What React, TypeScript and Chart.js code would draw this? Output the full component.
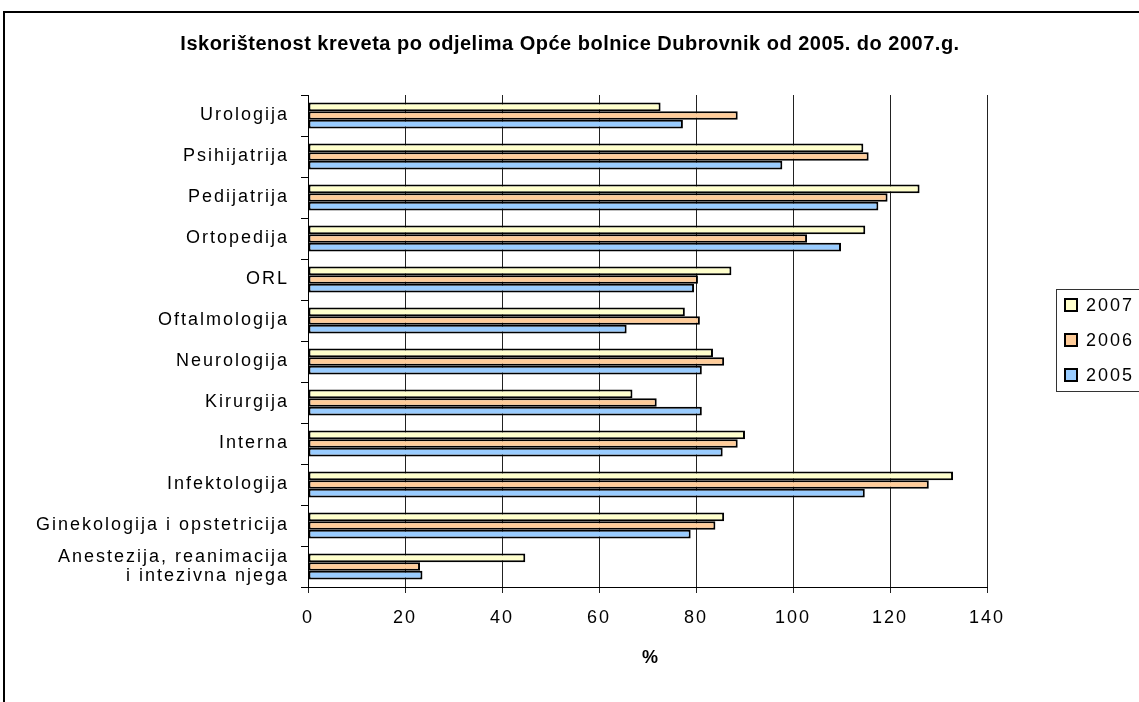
import React, { useEffect, useRef } from "react";
import { Chart, registerables } from "chart.js";

Chart.register(...registerables);

const titleText = "Iskorištenost kreveta po odjelima Opće bolnice Dubrovnik od 2005. do 2007.g.";
const xAxisTitle = "%";
const categories: (string | string[])[] = [
  "Urologija",
  "Psihijatrija",
  "Pedijatrija",
  "Ortopedija",
  "ORL",
  "Oftalmologija",
  "Neurologija",
  "Kirurgija",
  "Interna",
  "Infektologija",
  "Ginekologija i opstetricija",
  ["Anestezija, reanimacija", "i intezivna njega"],
];
const seriesNames = ["2007", "2006", "2005"];
const values2007 = [72.7, 114.5, 126.1, 114.9, 87.3, 77.7, 83.5, 66.9, 90.1, 133.0, 85.8, 44.8];
const values2006 = [88.6, 115.6, 119.5, 102.9, 80.4, 80.8, 85.8, 71.9, 88.6, 128.0, 84.0, 23.1];
const values2005 = [77.3, 97.8, 117.6, 109.9, 79.6, 65.7, 81.2, 81.2, 85.5, 114.8, 78.9, 23.6];
const seriesColors = ["#FFFFCC", "#FFCC99", "#99CCFF"];
const xMin = 0;
const xMax = 140;
const xStep = 20;

const FONT = "'Liberation Sans', Arial, sans-serif";

const spacingPlugin = {
  id: "spacing",
  beforeDraw(chart: any) {
    (chart.ctx as any).letterSpacing = "2px";
  },
};

const decorPlugin = {
  id: "decor",
  afterDraw(chart: any) {
    const ctx = chart.ctx;
    ctx.save();
    // outer frame (partially visible)
    ctx.letterSpacing = "0px";
    ctx.strokeStyle = "#000";
    ctx.lineWidth = 2;
    ctx.beginPath();
    ctx.moveTo(4, 702);
    ctx.lineTo(4, 12);
    ctx.lineTo(1139, 12);
    ctx.stroke();
    // title
    ctx.fillStyle = "#000";
    ctx.letterSpacing = "0.5px";
    ctx.font = "bold 20px " + FONT;
    ctx.textAlign = "center";
    ctx.textBaseline = "middle";
    ctx.fillText(titleText, 570, 44);
    // x-axis title
    ctx.letterSpacing = "0px";
    ctx.font = "bold 18px " + FONT;
    ctx.fillText(xAxisTitle, 650, 658);
    // legend
    const lx = 1056, ly = 289, lw = 100, lh = 102;
    ctx.lineWidth = 1;
    ctx.strokeStyle = "#333";
    ctx.strokeRect(lx + 0.5, ly + 0.5, lw, lh);
    ctx.font = "18px " + FONT;
    ctx.letterSpacing = "2px";
    ctx.textAlign = "left";
    seriesNames.forEach((name, i) => {
      const cy = 305 + i * 35;
      ctx.fillStyle = seriesColors[i];
      ctx.fillRect(1065, cy - 6, 12, 12);
      ctx.lineWidth = 2;
      ctx.strokeStyle = "#000";
      ctx.strokeRect(1065, cy - 6, 12, 12);
      ctx.fillStyle = "#000";
      ctx.fillText(name, 1086, cy + 1);
    });
    ctx.restore();
  },
};

export default function App() {
  const ref = useRef<HTMLCanvasElement>(null);
  useEffect(() => {
    document.body.style.margin = "0";
    const canvas = ref.current!;
    const allValues = [values2007, values2006, values2005];
    const chart = new Chart(canvas, {
      type: "bar",
      data: {
        labels: categories,
        datasets: seriesNames.map((name, i) => ({
          label: name,
          data: allValues[i],
          backgroundColor: seriesColors[i],
          borderColor: "#000",
          borderWidth: 2,
          borderSkipped: false,
          barPercentage: 1,
          categoryPercentage: 0.63,
        })),
      },
      options: {
        indexAxis: "y",
        animation: false,
        responsive: false,
        maintainAspectRatio: false,
        layout: { padding: { top: 95, right: 152, left: 0, bottom: 0 } },
        plugins: {
          legend: { display: false },
          title: { display: false },
          tooltip: { enabled: false },
        },
        scales: {
          x: {
            min: xMin,
            max: xMax,
            ticks: {
              stepSize: xStep,
              color: "#000",
              font: { family: FONT, size: 18 },
              padding: 14,
            },
            grid: {
              color: "#222",
              lineWidth: 1,
              drawTicks: true,
              tickLength: 6,
            },
            border: { color: "#000", width: 1 },
            afterFit(scale: any) {
              scale.height = 115;
            },
          },
          y: {
            offset: true,
            ticks: {
              color: "#000",
              font: { family: FONT, size: 18, lineHeight: 1.1 },
              padding: 12,
              autoSkip: false,
            },
            grid: {
              offset: true,
              drawOnChartArea: false,
              drawTicks: true,
              tickLength: 7,
              color: "#000",
            },
            border: { color: "#000", width: 1 },
            afterFit(scale: any) {
              scale.width = 308;
            },
          },
        },
      },
      plugins: [spacingPlugin, decorPlugin],
    });
    return () => chart.destroy();
  }, []);
  return (
    <canvas
      ref={ref}
      width={1139}
      height={702}
      style={{ display: "block", width: "1139px", height: "702px" }}
    />
  );
}
